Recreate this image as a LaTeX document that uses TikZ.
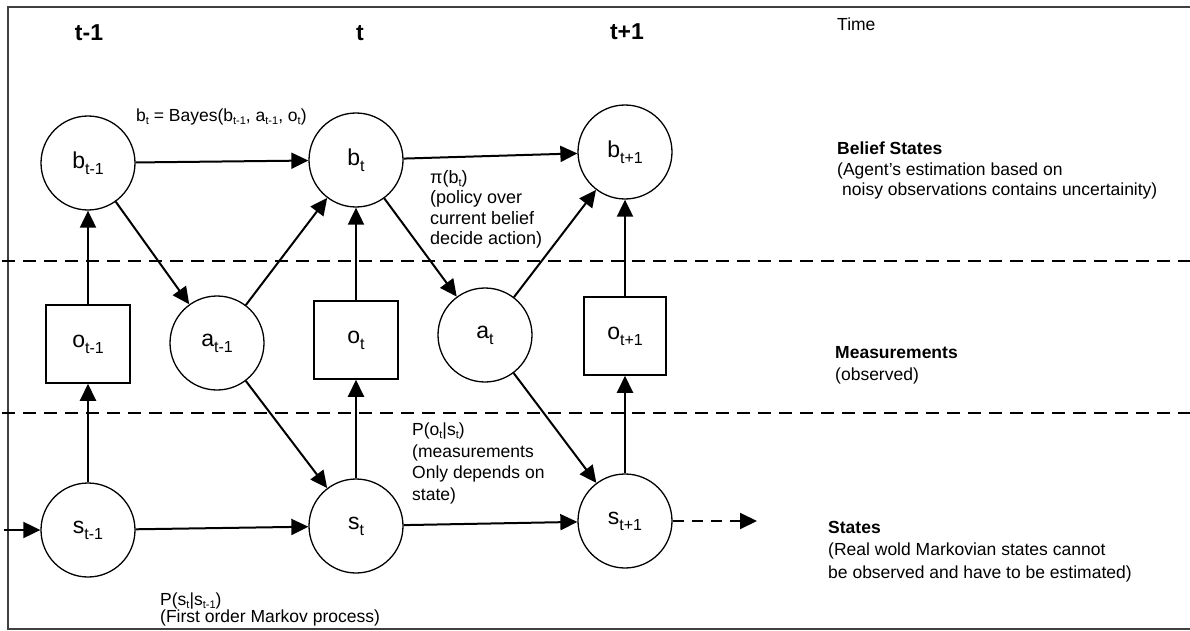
\documentclass[tikz,border=0pt]{standalone}
\usepackage{fontspec}
\setmainfont{Liberation Sans}
\usetikzlibrary{arrows.meta}
\newcommand{\nl}[2]{#1\raisebox{-6pt}{\fontsize{16}{16}\selectfont #2}}
\newcommand{\smsub}[1]{\raisebox{-3pt}{\fontsize{11}{11}\selectfont #1}}
\tikzset{
  circ/.style={circle, draw, line width=1.3pt, minimum size=94pt, inner sep=0pt, font=\fontsize{23}{23}\selectfont},
  obox/.style={rectangle, draw, line width=1.5pt, minimum width=84pt, minimum height=78pt, inner sep=0pt, font=\fontsize{23}{23}\selectfont},
  arr/.style={line width=2pt, -{Triangle[length=17pt,width=16pt]}},
  darr/.style={arr, dash pattern=on 11pt off 8pt},
  sepline/.style={line width=2pt, dash pattern=on 13pt off 8pt},
  frameline/.style={line width=2pt, draw=black!75},
  hdr/.style={font=\bfseries\fontsize{23}{23}\selectfont, inner sep=0pt},
  note/.style={anchor=north west, align=left, inner sep=0pt, font=\fontsize{17.5}{20.5}\selectfont},
}
\begin{document}
\begin{tikzpicture}[x=1pt,y=-1pt]
\useasboundingbox (0,0) rectangle (1190,631);
\fill[white] (0,0) rectangle (1190,631);
% frame and separators
\draw[frameline] (1190,7) -- (8,7) -- (8,629) -- (1190,629);
\draw[sepline] (2,261) -- (1190,261);
\draw[sepline] (2,413) -- (1190,413);
% headers
\node[hdr] (h1) at (89,33) {t-1};
\node[hdr] (h2) at (360,33) {t};
\node[hdr] (h3) at (627,32) {t+1};
% nodes
\node[circ] (b1) at (88,163) {\nl{b}{t-1}};
\node[circ] (b2) at (356,160) {\nl{b}{t}};
\node[circ] (b3) at (625,152) {\nl{b}{t+1}};
\node[obox] (o1) at (88,344) {\nl{o}{t-1}};
\node[circ] (a1) at (217,343) {\nl{a}{t-1}};
\node[obox] (o2) at (356,340) {\nl{o}{t}};
\node[circ] (a2) at (485,335) {\nl{a}{t}};
\node[obox, minimum width=82pt] (o3) at (625,336) {\nl{o}{t+1}};
\node[circ] (s1) at (88,530) {\nl{s}{t-1}};
\node[circ] (s2) at (356,526) {\nl{s}{t}};
\node[circ] (s3) at (625,521) {\nl{s}{t+1}};
\coordinate (in) at (4,530);
\coordinate (out) at (757,521);
% connectors
\draw[arr] (in) -- (s1);
\draw[arr] (s1) -- (s2);
\draw[arr] (s2) -- (s3);
\draw[darr] (s3) -- (out);
\draw[arr] (s1) -- (o1);
\draw[arr] (o1) -- (b1);
\draw[arr] (b1) -- (a1);
\draw[arr] (a1) -- (b2);
\draw[arr] (a1) -- (s2);
\draw[arr] (s2) -- (o2);
\draw[arr] (o2) -- (b2);
\draw[arr] (b2) -- (a2);
\draw[arr] (a2) -- (b3);
\draw[arr] (a2) -- (s3);
\draw[arr] (s3) -- (o3);
\draw[arr] (o3) -- (b3);
\draw[arr] (b1) -- (b2);
\draw[arr] (b2) -- (b3);
% labels
\node[note, anchor=west] (bayes) at (136,117) {b\smsub{t} = Bayes(b\smsub{t-1}, a\smsub{t-1}, o\smsub{t})};
\node[note, font=\fontsize{18}{20.5}\selectfont] (pol) at (430,170) {π(b\smsub{t})\\(policy over\\current belief\\decide action)};
\node[note, font=\fontsize{17.5}{21.5}\selectfont] (pos) at (412,423) {P(o\smsub{t}|s\smsub{t})\\(measurements\\Only depends on\\state)};
\node[note, font=\fontsize{17.5}{17}\selectfont] (pss) at (160,593) {P(s\smsub{t}|s\smsub{t-1})\\(First order Markov process)};
\node[note, anchor=west] (time) at (837,24) {Time};
\node[note] (bel) at (837,142) {\textbf{Belief States}\\(Agent's estimation based on\\\hspace*{5pt}noisy observations contains uncertainity)};
\node[note, font=\fontsize{17.5}{22}\selectfont] (meas) at (835,346) {\textbf{Measurements}\\(observed)};
\node[note, font=\fontsize{17.5}{22.5}\selectfont] (st) at (828,521) {\textbf{States}\\(Real wold Markovian states cannot\\be observed and have to be estimated)};
\end{tikzpicture}
\end{document}
